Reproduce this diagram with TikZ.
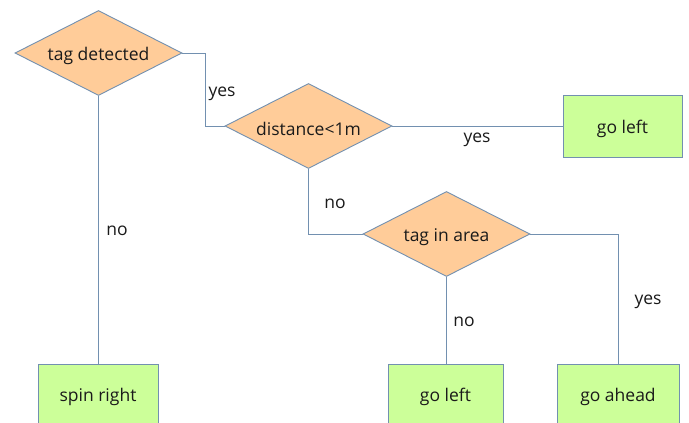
\documentclass[tikz,border=0pt]{standalone}
\usepackage{fontspec}
\setmainfont{Open Sans}
\usetikzlibrary{shapes.geometric}
\definecolor{linec}{HTML}{7290B0}
\definecolor{decfill}{HTML}{FFCC99}
\definecolor{actfill}{HTML}{CCFF99}
\definecolor{txt}{HTML}{1A1A1A}
\tikzset{
  decision/.style={diamond, aspect=2, draw=linec, fill=decfill, line width=0.9pt, inner sep=0pt,
    minimum width=167pt, minimum height=85pt},
  action/.style={rectangle, draw=linec, fill=actfill, line width=0.9pt, inner sep=0pt,
    minimum height=62pt},
  conn/.style={draw=linec, line width=0.9pt},
  nodetxt/.style={text=txt, font=\fontsize{17.5}{20}\selectfont, inner sep=0pt, yshift=-3pt},
  lbl/.style={text=txt, font=\fontsize{17.5}{20}\selectfont, inner sep=0pt, text depth=0pt}
}
\begin{document}
\begin{tikzpicture}[x=1pt,y=-1pt]
\useasboundingbox (0,0) rectangle (689,423);
\fill[white] (0,0) rectangle (689,423);
\node[decision] (d1) at (98.5,53) {};
\node[decision] (d2) at (308.5,126) {};
\node[decision] (d3) at (446.5,234) {};
\node[nodetxt] (e1) at (d1) {tag detected};
\node[nodetxt] (e2) at (d2) {distance<1m};
\node[nodetxt] (e3) at (d3) {tag in area};
\node[action, minimum width=119pt] (a1) at (622.5,126) {};
\node[action, minimum width=120pt] (a2) at (98,395) {};
\node[action, minimum width=115pt] (a3) at (445.5,395) {};
\node[action, minimum width=122pt] (a4) at (618,395) {};
\node[nodetxt] (t1) at (622.5,126) {go left};
\node[nodetxt] (t2) at (98,394) {spin right};
\node[nodetxt] (t3) at (445.5,394) {go left};
\node[nodetxt] (t4) at (618,394) {go ahead};
\draw[conn] (d1.east) -- ++(23,0) |- (d2.west);
\draw[conn] (d1.south) -- (a2.north -| d1.south);
\draw[conn] (d2.east) -- (a1.west);
\draw[conn] (d2.south) |- (d3.west);
\draw[conn] (d3.south) -- (a3.north -| d3.south);
\draw[conn] (d3.east) -| (a4.north);
\node[lbl] (y1) at (222,92) {yes};
\node[lbl] (y2) at (477,138) {yes};
\node[lbl] (n1) at (335,204) {no};
\node[lbl] (n2) at (117,231) {no};
\node[lbl] (n3) at (464,322) {no};
\node[lbl] (y3) at (648,300) {yes};
\end{tikzpicture}
\end{document}
